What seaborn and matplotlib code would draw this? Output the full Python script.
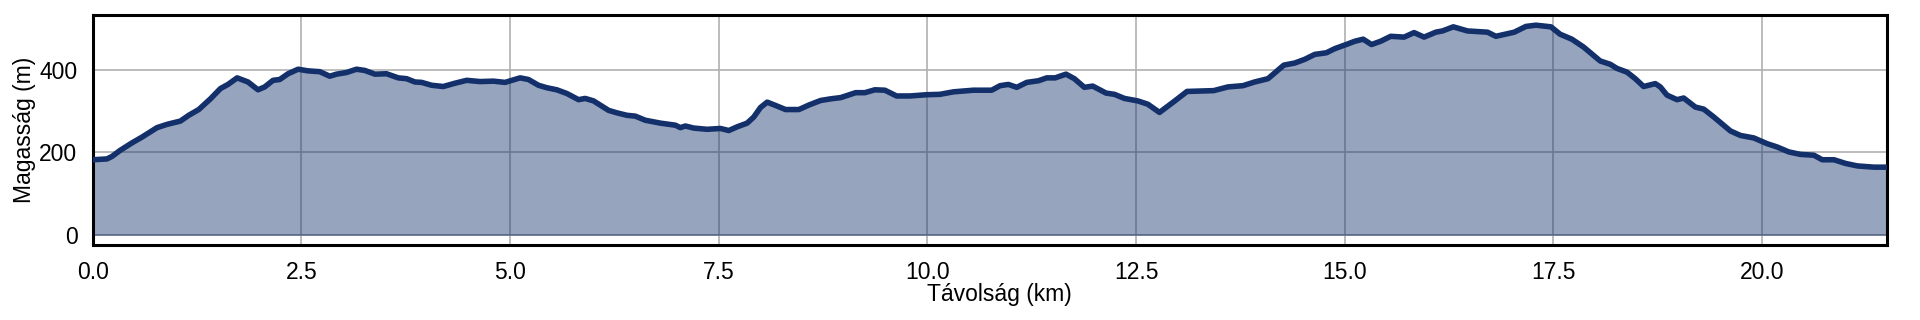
import numpy as np
import pandas as pd
import matplotlib
matplotlib.use("Agg")
import matplotlib.pyplot as plt
import seaborn as sns

distance_km = [
    0.00, 0.17, 0.23, 0.33, 0.47, 0.59, 0.77, 0.89, 1.05, 1.15, 1.27, 1.41, 1.53, 1.62, 1.73,
    1.86, 1.98, 2.06, 2.16, 2.24, 2.34, 2.46, 2.58, 2.72, 2.84, 2.92, 3.04, 3.16, 3.26, 3.38,
    3.52, 3.66, 3.76, 3.86, 3.94, 4.06, 4.20, 4.34, 4.48, 4.64, 4.80, 4.94, 5.02, 5.12, 5.22,
    5.34, 5.44, 5.56, 5.68, 5.82, 5.90, 6.00, 6.18, 6.28, 6.40, 6.50, 6.62, 6.80, 6.98, 7.04,
    7.10, 7.20, 7.36, 7.52, 7.62, 7.72, 7.84, 7.92, 8.00, 8.08, 8.18, 8.30, 8.46, 8.58, 8.72,
    8.84, 8.96, 9.14, 9.25, 9.37, 9.49, 9.63, 9.79, 9.99, 10.15, 10.31, 10.55, 10.77, 10.87,
    10.97, 11.07, 11.19, 11.33, 11.43, 11.53, 11.66, 11.76, 11.88, 11.98, 12.14, 12.24, 12.36,
    12.52, 12.64, 12.78, 12.97, 13.11, 13.43, 13.60, 13.78, 13.92, 14.08, 14.27, 14.40, 14.52,
    14.64, 14.78, 14.88, 15.03, 15.12, 15.22, 15.32, 15.43, 15.55, 15.71, 15.83, 15.95, 16.09,
    16.17, 16.30, 16.47, 16.71, 16.81, 17.03, 17.17, 17.29, 17.47, 17.58, 17.72, 17.86, 18.06,
    18.18, 18.26, 18.38, 18.48, 18.58, 18.72, 18.78, 18.86, 18.98, 19.06, 19.20, 19.30, 19.42,
    19.62, 19.74, 19.90, 20.06, 20.18, 20.32, 20.46, 20.62, 20.72, 20.86, 21.00, 21.14, 21.34,
    21.50,
]
elevation_m = [
    182, 184, 190, 205, 223, 237, 260, 268, 276, 290, 304, 330, 355, 365, 381,
    371, 352, 359, 375, 377, 391, 402, 398, 396, 385, 390, 394, 402, 399, 390,
    391, 381, 379, 371, 370, 363, 360, 368, 375, 372, 373, 370, 375, 381, 377,
    363, 357, 352, 343, 328, 331, 325, 302, 296, 290, 288, 278, 271, 266, 260,
    264, 259, 256, 258, 253, 262, 271, 286, 309, 322, 314, 304, 304, 315, 326,
    330, 333, 345, 345, 352, 351, 337, 337, 340, 341, 347, 351, 351, 362,
    365, 358, 370, 374, 381, 381, 390, 379, 358, 361, 344, 341, 331,
    325, 317, 297, 326, 348, 350, 359, 362, 371, 379, 412, 417, 426,
    438, 442, 452, 463, 470, 475, 462, 470, 482, 480, 491, 480, 492,
    495, 505, 495, 492, 482, 492, 506, 509, 505, 487, 475, 456, 422,
    414, 404, 395, 379, 360, 367, 359, 339, 328, 332, 310, 305, 286,
    252, 241, 235, 221, 213, 201, 195, 193, 182, 182, 173, 167, 164,
    164,
]
x_ticks = [0.0, 2.5, 5.0, 7.5, 10.0, 12.5, 15.0, 17.5, 20.0]
y_ticks = [0, 200, 400]
x_label = "Távolság (km)"
y_label = "Magasság (m)"

df = pd.DataFrame({"dist": distance_km, "elev": elevation_m})

sns.set_style("whitegrid")
plt.rcParams["font.family"] = ["Liberation Sans", "DejaVu Sans"]
plt.rcParams["text.color"] = "black"
plt.rcParams["axes.labelcolor"] = "black"

line_color = "#13306b"
fs = 16.5

fig = plt.figure(figsize=(19.2, 3.2), dpi=100)
ax = fig.add_axes([0.0483, 0.234, 0.9347, 0.72])

ax.fill_between(df["dist"], 0, df["elev"], color=line_color, alpha=0.44, linewidth=1.0, zorder=1)
sns.lineplot(data=df, x="dist", y="elev", ax=ax, color=line_color, linewidth=4.0, zorder=3)

ax.set_xlim(min(distance_km), max(distance_km))
ax.set_xticks(x_ticks)
ax.set_xticklabels([f"{t:.1f}" for t in x_ticks])
ax.set_yticks(y_ticks)
ax.set_xlabel(x_label, fontsize=fs, color="black")
ax.set_ylabel(y_label, fontsize=fs, color="black", va="center")
ax.xaxis.set_label_coords(0.505, -0.165)
ax.yaxis.set_label_coords(-0.0383, 0.5)
ax.tick_params(axis="both", labelsize=fs, length=0, colors="black")
ax.tick_params(axis="x", pad=11.5)
ax.tick_params(axis="y", pad=11)

ax.grid(True, color="#b0b0b0", linewidth=1.2, zorder=0)
ax.set_axisbelow(True)
for s in ax.spines.values():
    s.set_visible(True)
    s.set_color("black")
    s.set_linewidth(2.2)

fig.savefig("out.png", dpi=100, facecolor="white")
